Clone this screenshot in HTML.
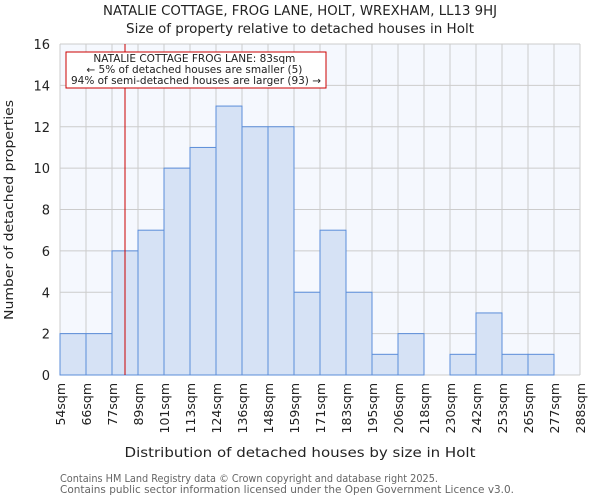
<!DOCTYPE html>
<html><head><meta charset="utf-8"><style>
body{margin:0;background:#fff;font-family:"DejaVu Sans","Liberation Sans",sans-serif;}
</style></head><body>
<svg id="chart" width="600" height="500" xmlns="http://www.w3.org/2000/svg" font-family="DejaVu Sans, Liberation Sans, sans-serif">
<text x="300" y="15" text-anchor="middle" font-size="13" fill="#222" textLength="394" lengthAdjust="spacingAndGlyphs">NATALIE COTTAGE, FROG LANE, HOLT, WREXHAM, LL13 9HJ</text>
<text x="300" y="33" text-anchor="middle" font-size="13" fill="#222" textLength="348" lengthAdjust="spacingAndGlyphs">Size of property relative to detached houses in Holt</text>
<rect x="60" y="44" width="520" height="331" fill="#f5f8fe"/>
<g id="grid"></g>
<g id="bars"></g>
<g id="yticks"></g>
<g id="xticks"></g>
<line id="marker" stroke="#cc0000" stroke-width="1"/>
<rect x="66" y="52" width="260" height="36" fill="#fff" stroke="#cc0000" stroke-width="1"/>
<text text-anchor="middle" font-size="10.2" fill="#222">
<tspan x="196" y="62" textLength="202" lengthAdjust="spacingAndGlyphs">NATALIE COTTAGE FROG LANE: 83sqm</tspan>
<tspan x="196" y="73" textLength="216" lengthAdjust="spacingAndGlyphs">← 5% of detached houses are smaller (5)</tspan>
<tspan x="196" y="84" textLength="250" lengthAdjust="spacingAndGlyphs">94% of semi-detached houses are larger (93) →</tspan>
</text>
<text transform="translate(13,210) rotate(-90)" text-anchor="middle" font-size="12.5" fill="#222" textLength="220" lengthAdjust="spacingAndGlyphs">Number of detached properties</text>
<text x="300" y="457" text-anchor="middle" font-size="13" fill="#222" textLength="351" lengthAdjust="spacingAndGlyphs">Distribution of detached houses by size in Holt</text>
<text font-size="10.4" fill="#666"><tspan x="60" y="482" textLength="378" lengthAdjust="spacingAndGlyphs">Contains HM Land Registry data © Crown copyright and database right 2025.</tspan><tspan x="60" y="493" textLength="454" lengthAdjust="spacingAndGlyphs">Contains public sector information licensed under the Open Government Licence v3.0.</tspan></text>
</svg>
<script>
const binLabels=["54sqm","66sqm","77sqm","89sqm","101sqm","113sqm","124sqm","136sqm","148sqm","159sqm","171sqm","183sqm","195sqm","206sqm","218sqm","230sqm","242sqm","253sqm","265sqm","277sqm","288sqm"];
const counts=[2,2,6,7,10,11,13,12,12,4,7,4,1,2,0,1,3,1,1,0];
const yTicks=[0,2,4,6,8,10,12,14,16];
const markerBin=2.5;
const NS="http://www.w3.org/2000/svg";
const x0=60,x1=580,y0=375,y1=44,yMax=16;
const bw=(x1-x0)/counts.length;
const xs=i=>x0+i*bw;
const ys=v=>y0-(v/yMax)*(y0-y1);
function mk(t,a){const e=document.createElementNS(NS,t);for(const k in a)e.setAttribute(k,a[k]);return e;}
const grid=document.getElementById('grid'),bars=document.getElementById('bars'),yt=document.getElementById('yticks'),xt=document.getElementById('xticks');
yTicks.forEach(v=>{
 const l=mk('line',{x1:x0,x2:x1,y1:ys(v),y2:ys(v),stroke:'#cccccc','stroke-width':1});
 
 
 grid.appendChild(l);
 const t=mk('text',{x:50,y:ys(v)+5,'text-anchor':'end','font-size':13,fill:'#222'});
 
 
 t.textContent=v;yt.appendChild(t);
});
binLabels.forEach((s,i)=>{
 const l=mk('line',{x1:xs(i),x2:xs(i),y1:y1,y2:y0,stroke:'#cccccc','stroke-width':1});
 
 
 grid.appendChild(l);
 const t=mk('text',{transform:`translate(${xs(i)+5},383) rotate(-90)`,'text-anchor':'end','font-size':12.5,fill:'#222'});
 
 
 t.textContent=s;xt.appendChild(t);
});
counts.forEach((c,i)=>{
 if(c<=0)return;
 const r=mk('rect',{x:xs(i),y:ys(c),width:bw,height:y0-ys(c),fill:'#d6e2f5',stroke:'#5b8dd9','stroke-width':1});
 
 
 bars.appendChild(r);
});
const m=document.getElementById('marker');
m.setAttribute('x1',xs(markerBin));m.setAttribute('x2',xs(markerBin));
m.setAttribute('y1',y1);m.setAttribute('y2',y0);
</script>
</body></html>
